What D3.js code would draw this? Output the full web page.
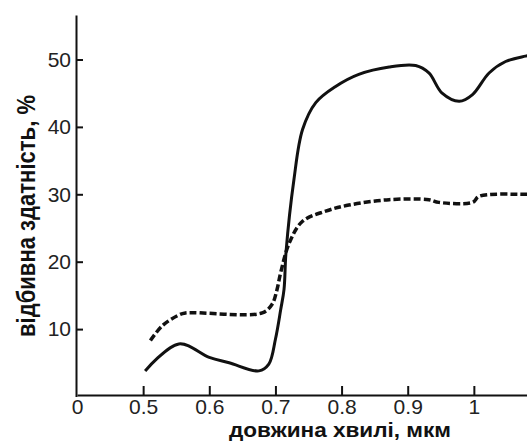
<!DOCTYPE html>
<html>
<head>
<meta charset="utf-8">
<script src="https://cdn.jsdelivr.net/npm/d3@7"></script>
<style>
  body { margin: 0; background: #fff; }
  svg { display: block; }
</style>
</head>
<body>
<div id="chart"></div>
<script>
// значення
var wavelengthSolid = [0.503, 0.554, 0.600, 0.630, 0.675, 0.690, 0.700, 0.708, 0.713, 0.716, 0.728, 0.741, 0.761, 0.791, 0.826, 0.872, 0.912, 0.932, 0.952, 0.978, 0.998, 1.023, 1.048, 1.078, 1.095];
var reflectSolid   = [3.8, 7.8, 5.8, 5.0, 3.8, 4.8, 8.5, 12.9, 15.9, 21.4, 32.2, 39.6, 43.6, 46.0, 47.8, 48.9, 49.1, 48.0, 45.0, 43.8, 44.8, 48.0, 49.7, 50.5, 50.8];

var wavelengthDashed = [0.511, 0.529, 0.554, 0.564, 0.680, 0.695, 0.702, 0.708, 0.721, 0.741, 0.776, 0.811, 0.872, 0.932, 0.947, 0.998, 1.008, 1.078, 1.095];
var reflectDashed    = [8.3, 10.5, 12.1, 12.4, 12.4, 13.7, 15.7, 18.4, 22.8, 26.0, 27.5, 28.4, 29.2, 29.2, 28.8, 28.8, 29.7, 30.0, 30.0];

var xTicks = [0.4, 0.5, 0.6, 0.7, 0.8, 0.9, 1.0];
var yTicks = [10, 20, 30, 40, 50];

var width = 527, height = 441;

var svg = d3.select("#chart")
  .append("svg")
  .attr("width", width)
  .attr("height", height);

var x = d3.scaleLinear().domain([0.4, 1.1]).range([77, 540]);
var y = d3.scaleLinear().domain([0, 56.6]).range([396.5, 15]);

// осі
var xAxis = svg.append("g")
  .attr("transform", "translate(0,395)")
  .call(d3.axisBottom(x)
    .tickValues(xTicks)
    .tickSizeInner(-9)
    .tickSizeOuter(0)
    .tickPadding(4)
    .tickFormat(function(d) {
      if (d === 0.4) return "0";
      if (d === 1.0) return "1";
      return d3.format(".1f")(d);
    }));

// на місці розриву осі риски немає
xAxis.selectAll(".tick").filter(function(d) { return d === 0.4; })
  .select("line").remove();

var yAxis = svg.append("g")
  .attr("transform", "translate(76,0)")
  .call(d3.axisLeft(y)
    .tickValues(yTicks)
    .tickSizeInner(-7)
    .tickSizeOuter(0)
    .tickPadding(5));

svg.selectAll(".domain, .tick line")
  .style("stroke", "#111")
  .style("stroke-width", 2);

svg.selectAll(".tick text")
  .style("font-family", "'Liberation Sans', Arial, sans-serif")
  .style("font-size", "21px")
  .style("fill", "#222");

xAxis.selectAll(".tick text").attr("dy", "0.71em");

// криві
var line = d3.line()
  .x(function(d) { return x(d[0]); })
  .y(function(d) { return y(d[1]); })
  .curve(d3.curveCatmullRom.alpha(0.5));

svg.append("path")
  .datum(d3.zip(wavelengthDashed, reflectDashed))
  .attr("d", line)
  .style("fill", "none")
  .style("stroke", "#111")
  .style("stroke-width", 3.5)
  .style("stroke-dasharray", "7,3");

svg.append("path")
  .datum(d3.zip(wavelengthSolid, reflectSolid))
  .attr("d", line)
  .style("fill", "none")
  .style("stroke", "#111")
  .style("stroke-width", 3);

// підписи осей (вузький жирний шрифт)
svg.append("text")
  .attr("x", 340)
  .attr("y", 437)
  .attr("textLength", 222)
  .attr("lengthAdjust", "spacingAndGlyphs")
  .style("font-family", "'Liberation Sans', Arial, sans-serif")
  .style("font-weight", "bold")
  .style("font-size", "20px")
  .style("text-anchor", "middle")
  .style("fill", "#111")
  .text("довжина хвилі, мкм");

svg.append("text")
  .attr("transform", "translate(35,216) rotate(-90)")
  .attr("textLength", 242)
  .attr("lengthAdjust", "spacingAndGlyphs")
  .style("font-family", "'Liberation Sans', Arial, sans-serif")
  .style("font-weight", "bold")
  .style("font-size", "25px")
  .style("text-anchor", "middle")
  .style("fill", "#111")
  .text("відбивна здатність, %");
</script>
</body>
</html>
